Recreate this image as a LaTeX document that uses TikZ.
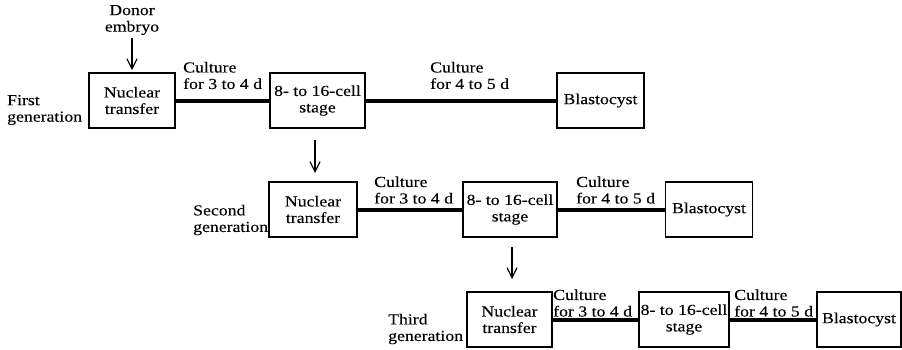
\documentclass[tikz,border=0pt]{standalone}
\usepackage{fontspec}
\setmainfont{Liberation Serif}
\newfontfamily\tfont[FakeStretch=1.16,FakeBold=0.12]{Liberation Serif}
\usetikzlibrary{arrows.meta}
\begin{document}
\begin{tikzpicture}[x=1pt,y=-1pt,
  txt/.style={font=\tfont\fontsize{15.3}{16.5}\selectfont},
  box/.style={txt, draw, line width=1.6pt, minimum height=55pt, inner sep=0pt, align=center},
  lbl/.style={txt, inner sep=0pt, align=left},
  link/.style={line width=4pt},
  down/.style={line width=1.2pt, -{Straight Barb[length=10pt,width=10pt,line width=1.2pt]}}]
\useasboundingbox (0,0) rectangle (902,349);

% row 1
\node[box, minimum width=86pt] (nt1) at (132,100.5) {Nuclear\\transfer};
\node[box, minimum width=95pt] (s1) at (317.5,100.5) {8- to 16-cell\\stage};
\node[box, minimum width=87pt] (b1) at (600.5,100.5) {Blastocyst};
\draw[link] (nt1.east) -- (s1.west);
\draw[link] (s1.east) -- (b1.west);
\node[lbl, align=center] (donor) at (132,20) {Donor\\embryo};
\node[lbl, anchor=west] (g1) at (7,110) {First\\generation};
\node[lbl, anchor=west] (c1a) at (183,75.5) {Culture\\for 3 to 4 d};
\node[lbl, anchor=west] (c1b) at (430,75.5) {Culture\\for 4 to 5 d};
\draw[down, shorten <=3pt, shorten >=2pt] (donor.south) -- (nt1.north);

% row 2
\node[box, minimum width=88pt] (nt2) at (313,209.5) {Nuclear\\transfer};
\node[box, minimum width=94pt] (s2) at (510,209.5) {8- to 16-cell\\stage};
\node[box, minimum width=87pt] (b2) at (709,209.5) {Blastocyst};
\draw[link] (nt2.east) -- (s2.west);
\draw[link] (s2.east) -- (b2.west);
\node[lbl, anchor=west] (g2) at (193,220) {Second\\generation};
\node[lbl, anchor=west] (c2a) at (374,190) {Culture\\for 3 to 4 d};
\node[lbl, anchor=west] (c2b) at (576,190) {Culture\\for 4 to 5 d};
\coordinate (a1s) at (315,140);
\coordinate (a1e) at (315,173);
\draw[down] (a1s) -- (a1e);

% row 3
\node[box, minimum width=85pt] (nt3) at (509.5,319.5) {Nuclear\\transfer};
\node[box, minimum width=90pt] (s3) at (684,319.5) {8- to 16-cell\\stage};
\node[box, minimum width=84pt] (b3) at (859,319.5) {Blastocyst};
\draw[link] (nt3.east) -- (s3.west);
\draw[link] (s3.east) -- (b3.west);
\node[lbl, anchor=west] (g3) at (388,329) {Third\\generation};
\node[lbl, anchor=west] (c3a) at (553,303) {Culture\\for 3 to 4 d};
\node[lbl, anchor=west] (c3b) at (734,303) {Culture\\for 4 to 5 d};
\coordinate (a2s) at (512,247);
\coordinate (a2e) at (512,279);
\draw[down] (a2s) -- (a2e);
\end{tikzpicture}
\end{document}
